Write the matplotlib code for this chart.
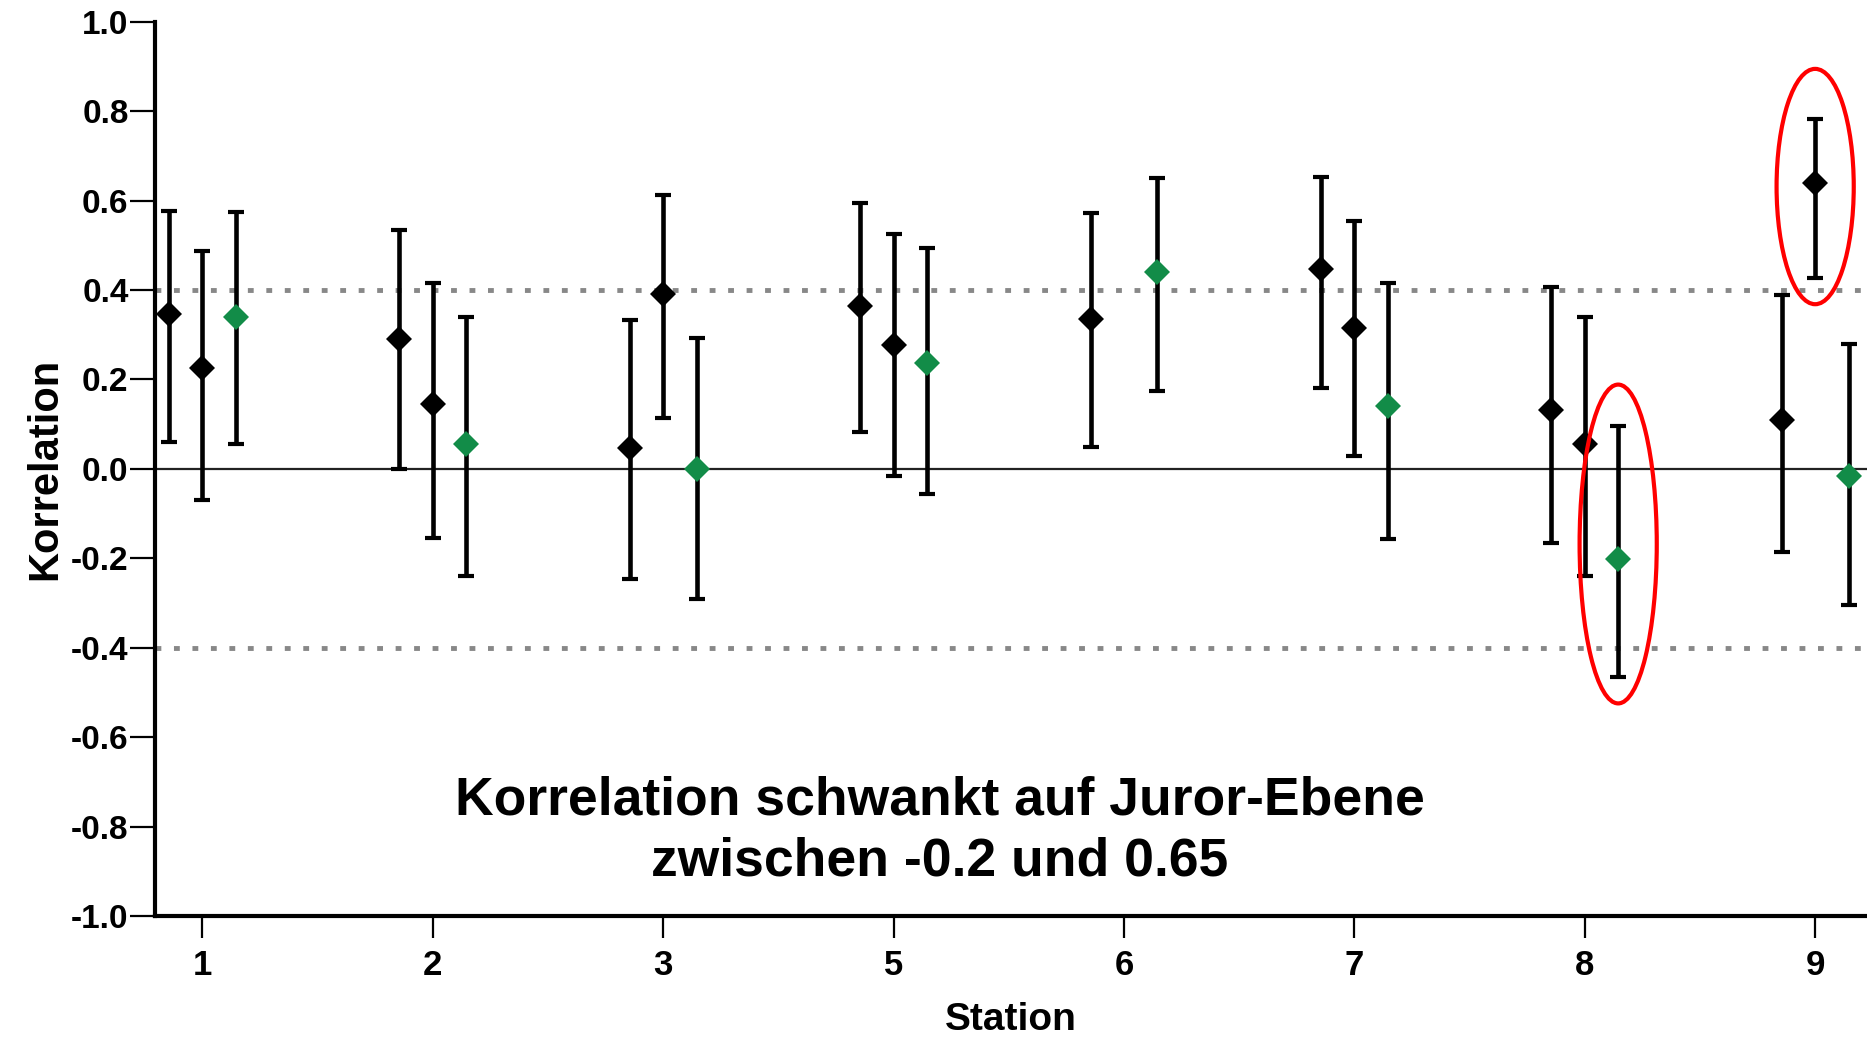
import matplotlib
matplotlib.use('Agg')
import matplotlib.pyplot as plt
from matplotlib.patches import Ellipse
import numpy as np

# stations on the x axis
stations = ['1', '2', '3', '5', '6', '7', '8', '9']

# first black series (left of each station)
black1 = [0.347, 0.290, 0.047, 0.364, 0.335, 0.448, 0.131, 0.110]
black1_lo = [0.060, 0.000, -0.246, 0.082, 0.050, 0.182, -0.166, -0.185]
black1_hi = [0.578, 0.535, 0.333, 0.595, 0.572, 0.654, 0.407, 0.390]

# second black series (on the station tick), station 6 has none
black2 = [0.225, 0.145, 0.392, 0.277, np.nan, 0.315, 0.056, 0.639]
black2_lo = [-0.070, -0.155, 0.114, -0.016, np.nan, 0.028, -0.239, 0.426]
black2_hi = [0.488, 0.415, 0.613, 0.525, np.nan, 0.555, 0.340, 0.783]

# green series (right of each station)
green = [0.340, 0.055, 0.000, 0.238, 0.440, 0.140, -0.201, -0.015]
green_lo = [0.055, -0.240, -0.291, -0.056, 0.175, -0.156, -0.465, -0.305]
green_hi = [0.575, 0.340, 0.292, 0.495, 0.650, 0.415, 0.095, 0.280]

# highlighted points: (series, station index)
highlights = [('green', 6), ('black2', 7)]

y_ticks = [-1.0, -0.8, -0.6, -0.4, -0.2, 0.0, 0.2, 0.4, 0.6, 0.8, 1.0]
y_ticklabels = ['-1.0', '-0.8', '-0.6', '-0.4', '-0.2', '0.0',
                '0.2', '0.4', '0.6', '0.8', '1.0']

note = 'Korrelation schwankt auf Juror-Ebene\nzwischen -0.2 und 0.65'

GREEN = '#128c48'
plt.rcParams['font.family'] = ['Liberation Sans', 'DejaVu Sans']

fig = plt.figure(figsize=(18.67, 10.42), dpi=100)
ax = fig.add_axes([0.083, 0.121, 0.917, 0.858])

x = np.arange(len(stations))
off = 0.145
series = {
    'black1': (x - off, black1, black1_lo, black1_hi, 'black'),
    'black2': (x, black2, black2_lo, black2_hi, 'black'),
    'green': (x + off, green, green_lo, green_hi, GREEN),
}

ax.axhline(0, color='#222222', lw=1.6, zorder=1)
for yv in (0.4, -0.4):
    ax.axhline(yv, color='#888888', lw=3.5, dashes=(1.2, 2.6), zorder=1)

for name, (xs, v, lo, hi, col) in series.items():
    v = np.array(v)
    lo = np.array(lo)
    hi = np.array(hi)
    ax.errorbar(xs, v, yerr=[v - lo, hi - v], fmt='none', ecolor='black',
                elinewidth=3.3, capsize=5.8, capthick=3, zorder=2)
    ax.plot(xs, v, linestyle='none', marker='D', ms=13.2, color=col,
            markeredgewidth=0, zorder=3)

for name, i in highlights:
    xs, v, lo, hi, col = series[name]
    span = hi[i] - lo[i]
    cy = (lo[i] + hi[i]) / 2 + 0.015 + 0.05 * (0.6 - span)
    h = span + 0.15 + 0.08 * (0.6 - span)
    ax.add_patch(Ellipse((xs[i], cy), 0.335, h, fill=False, edgecolor='#ff0000',
                         lw=3, zorder=4))

ax.text(3.2, -0.81, note, ha='center', va='center', fontsize=38.5,
        fontweight='bold', linespacing=1.29)

ax.set_xlim(-0.206, 7.225)
ax.set_ylim(-1.0, 1.0)
ax.set_xticks(x)
ax.set_xticklabels(stations)
ax.set_yticks(y_ticks)
ax.set_yticklabels(y_ticklabels)

for spine in ['right', 'top']:
    ax.spines[spine].set_visible(False)
ax.spines['left'].set_linewidth(3)
ax.spines['bottom'].set_linewidth(3)
ax.spines['bottom'].set_capstyle('projecting')

ax.tick_params(axis='y', length=18, width=1.6, pad=1, labelsize=24)
ax.tick_params(axis='x', length=16, width=1.6, pad=8, labelsize=25)
for lab in ax.get_xticklabels() + ax.get_yticklabels():
    lab.set_fontweight('bold')

ax.set_xlabel('Station', fontsize=28, fontweight='bold', labelpad=14)
ax.set_ylabel('Korrelation', fontsize=30, fontweight='bold', labelpad=4)

fig.savefig('out.png', dpi=100)
